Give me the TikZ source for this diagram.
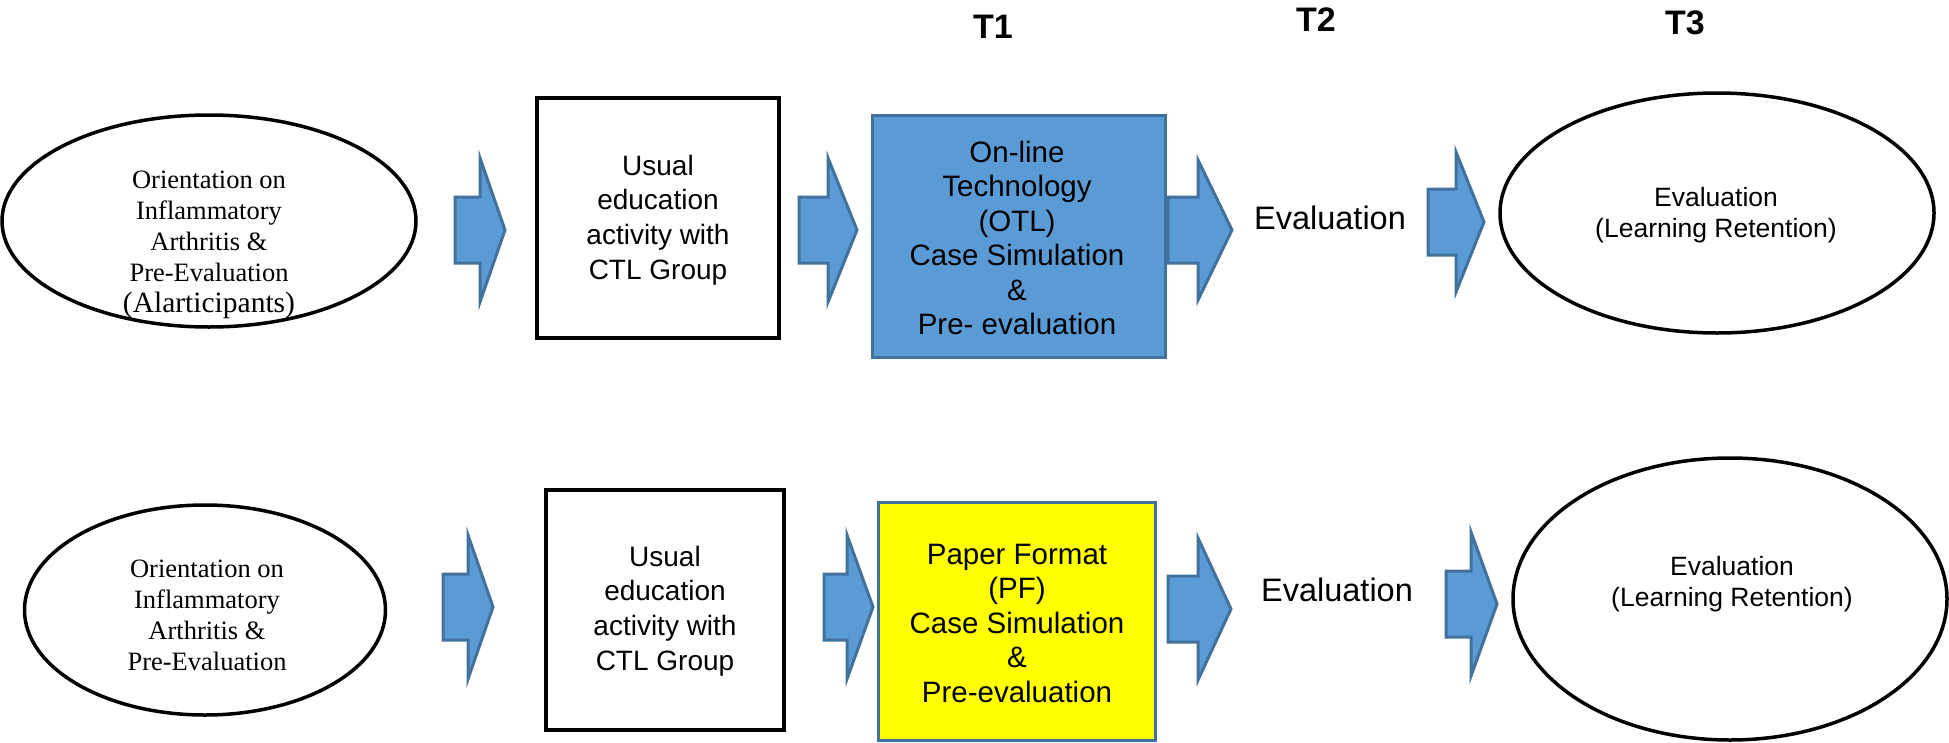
\documentclass[tikz,border=0pt]{standalone}
\usepackage{fontspec}
\setmainfont{Liberation Serif}
\newfontfamily\arialfont{Liberation Sans}
\usetikzlibrary{shapes.geometric}
\definecolor{abfill}{HTML}{5B9BD5}
\definecolor{abline}{HTML}{41719C}
\definecolor{pfyellow}{HTML}{FFFF00}
\tikzset{
  barrow/.style={fill=abfill, draw=abline, line width=3pt, line join=miter},
  oval/.style={ellipse, draw=black, line width=3.5pt, inner sep=0pt},
  plainbox/.style={rectangle, draw=black, line width=4pt, inner sep=0pt},
  otlbox/.style={rectangle, draw=abline, fill=abfill, line width=3pt, inner sep=0pt},
  pfbox/.style={rectangle, draw=abline, fill=pfyellow, line width=3pt, inner sep=0pt},
  seriftext/.style={font=\fontsize{26.5}{31}\selectfont, align=center, inner sep=0pt},
  boxtext/.style={font=\arialfont\fontsize{28}{34.6}\selectfont, align=center, inner sep=0pt},
  coltext/.style={font=\arialfont\fontsize{29.5}{34.5}\selectfont, align=center, inner sep=0pt},
  evaltext/.style={font=\arialfont\fontsize{32.5}{38}\selectfont, inner sep=0pt},
  ovaltext/.style={font=\arialfont\fontsize{26.5}{31}\selectfont, align=center, inner sep=0pt},
  tlabel/.style={font=\arialfont\bfseries\fontsize{34}{40}\selectfont, inner sep=0pt}
}
\newcommand{\blockarrow}[5]{%
  \draw[barrow] (#1,#4-33) -- (#2,#4-33) -- (#2,#4-#5) -- (#3,#4) -- (#2,#4+#5) -- (#2,#4+33) -- (#1,#4+33) -- cycle;}
\begin{document}
\begin{tikzpicture}[x=1pt,y=-1pt]
\useasboundingbox (0,0) rectangle (1949,742);

% time labels
\node[tlabel] (t1) at (993,27) {T1};
\node[tlabel] (t2) at (1316,20) {T2};
\node[tlabel] (t3) at (1685,23) {T3};

% ---------- top row ----------
\node[oval, minimum width=414pt, minimum height=212pt] (a1) at (209,221) {};
\node[seriftext] (a1t) at (209,245) {Orientation on\\Inflammatory\\Arthritis \&\\Pre-Evaluation\\{\fontsize{29.5}{32.5}\selectfont (Alarticipants)}};
\node[plainbox, minimum width=242pt, minimum height=240pt] (b1) at (658,218) {};
\node[boxtext] (b1t) at (658,220) {Usual\\education\\activity with\\CTL Group};
\node[otlbox, minimum width=293pt, minimum height=242pt] (c1) at (1018.5,236) {};
\node[coltext] (c1t) at (1017,238) {On-line\\Technology\\(OTL)\\Case Simulation\\\&\\Pre- evaluation};
\node[evaltext] (e1) at (1330,218) {Evaluation};
\node[oval, minimum width=434pt, minimum height=240pt] (d1) at (1717,213) {};
\node[ovaltext] (d1t) at (1716,215) {Evaluation\\(Learning Retention)};

\blockarrow{455}{480}{505}{230}{72}
\blockarrow{799}{828}{857}{230}{72}
\blockarrow{1168}{1198}{1232}{230}{70}
\blockarrow{1428}{1456}{1484}{222}{70}

% ---------- bottom row ----------
\node[oval, minimum width=361pt, minimum height=210pt] (a2) at (205,610) {};
\node[seriftext] (a2t) at (207,615) {Orientation on\\Inflammatory\\Arthritis \&\\Pre-Evaluation};
\node[plainbox, minimum width=238pt, minimum height=240pt] (b2) at (665,610) {};
\node[boxtext] (b2t) at (665,611) {Usual\\education\\activity with\\CTL Group};
\node[pfbox, minimum width=277pt, minimum height=238pt] (c2) at (1016.5,621) {};
\node[coltext] (c2t) at (1017,623) {Paper Format\\(PF)\\Case Simulation\\\&\\Pre-evaluation};
\node[evaltext] (e2) at (1337,590) {Evaluation};
\node[oval, minimum width=434pt, minimum height=282pt] (d2) at (1730,599) {};
\node[ovaltext] (d2t) at (1732,584) {Evaluation\\(Learning Retention)};

\blockarrow{443}{468}{493}{607}{72}
\blockarrow{824}{847}{873}{607}{72}
\blockarrow{1168}{1198}{1231}{609}{71}
\blockarrow{1446}{1471}{1497}{604}{72}
\end{tikzpicture}
\end{document}
